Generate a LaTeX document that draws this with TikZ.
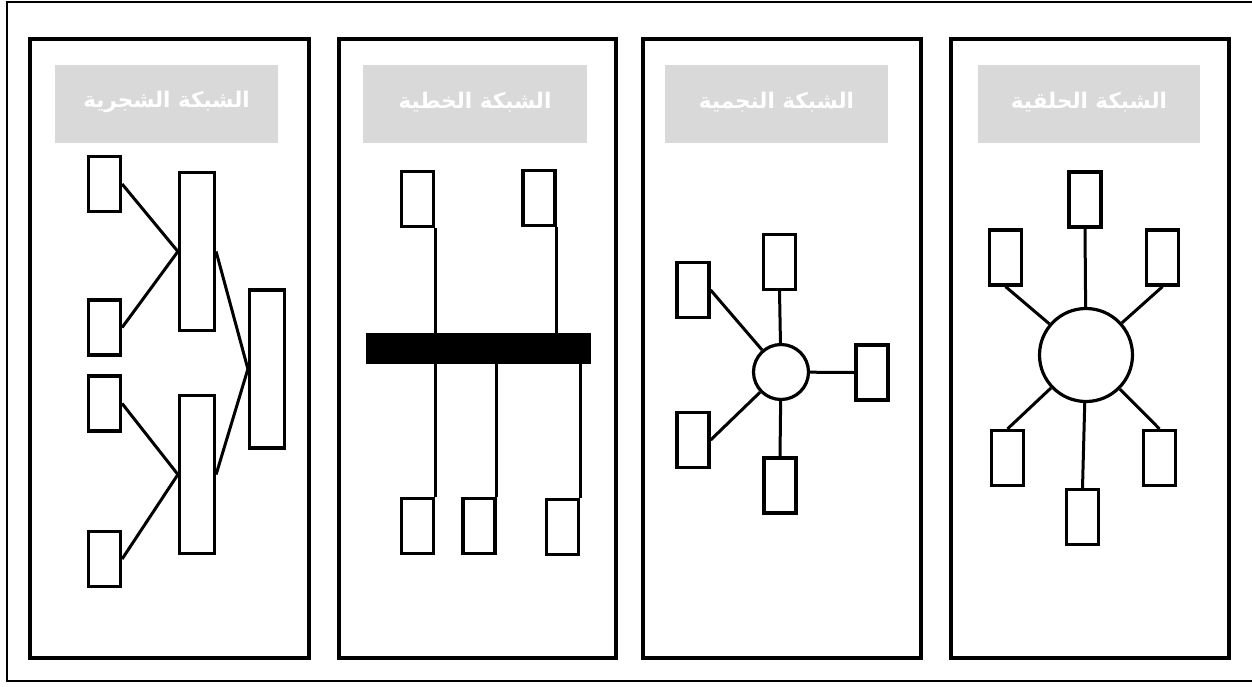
\documentclass[tikz,border=0pt]{standalone}
\usepackage{fontspec}
\newfontfamily\arabicfont[Script=Arabic]{DejaVu Sans}
\TeXXeTstate=1
\definecolor{titlegray}{HTML}{D9D9D9}

\begin{document}
\begin{tikzpicture}[x=1pt,y=-1pt,
  panel/.style={line width=4pt},
  titlebox/.style={fill=titlegray,draw=none},
  titletext/.style={text=white,font=\arabicfont\bfseries\fontsize{21.5}{26}\selectfont},
  pc/.style={draw,line width=3.2pt,inner sep=0pt,minimum width=32pt,minimum height=55pt},
  tall/.style={pc,minimum width=35pt,minimum height=158pt},
  hub/.style={draw,circle,line width=3.2pt,inner sep=0pt},
  link/.style={line width=3pt}]
\useasboundingbox (0,0) rectangle (1252,686);
\draw[line width=2pt] (1252,2) -- (7,2) -- (7,681) -- (1252,681);

% the four frames with their grey headings
\draw[panel] (30,39) rectangle (309,658);
\draw[panel] (339,39) rectangle (616,658);
\draw[panel] (643,39) rectangle (921,658);
\draw[panel] (951,39) rectangle (1229,658);
\fill[titlebox] (55,65) rectangle (278,143);
\fill[titlebox] (363,65) rectangle (587,143);
\fill[titlebox] (665,65) rectangle (888,143);
\fill[titlebox] (978,65) rectangle (1200,143);
\node[titletext] (t1) at (166.5,102) {\beginR الشبكة الشجرية\endR};
\node[titletext] (t2) at (475,102) {\beginR الشبكة الخطية\endR};
\node[titletext] (t3) at (776.5,102) {\beginR الشبكة النجمية\endR};
\node[titletext] (t4) at (1089,102) {\beginR الشبكة الحلقية\endR};

% tree
\node[pc] (L1) at (104.5,184) {};
\node[pc] (L2) at (104.5,327.5) {};
\node[pc] (L3) at (104.5,403.5) {};
\node[pc] (L4) at (104.5,559) {};
\node[tall] (M1) at (197,251.5) {};
\node[tall] (M2) at (197,474.5) {};
\node[tall] (R) at (267,369) {};
\draw[link] (L1.east) -- (M1.west) -- (L2.east);
\draw[link] (L3.east) -- (M2.west) -- (L4.east);
\draw[link] (M1.east) -- (R.west) -- (M2.east);

% bus
\node[fill,inner sep=0pt,minimum width=225pt,minimum height=31pt] (bus) at (478.5,348.5) {};
\node[pc] (T1) at (417.5,199) {};
\node[pc] (T2) at (539,198) {};
\node[pc] (B1) at (417.5,526) {};
\node[pc] (B2) at (479,526) {};
\node[pc] (B3) at (562.5,527) {};
\draw[link] (T1.south east) -- (T1.south east |- bus.north);
\draw[link] (T2.south east) -- (T2.south east |- bus.north);
\draw[link] (B1.north east) -- (B1.north east |- bus.south);
\draw[link] (B2.north east) -- (B2.north east |- bus.south);
\draw[link] (B3.north east) -- (B3.north east |- bus.south);

% star
\node[hub,minimum size=55pt] (C) at (781,372) {};
\node[pc] (S1) at (779.5,262) {};
\node[pc] (S2) at (693,290) {};
\node[pc] (S3) at (872,372.5) {};
\node[pc] (S4) at (693,440) {};
\node[pc] (S5) at (780,485.5) {};
\draw[link] (C) -- (S1.south);
\draw[link] (C) -- (S2.east);
\draw[link] (C) -- (S3.west);
\draw[link] (C) -- (S4.east);
\draw[link] (C) -- (S5.north);

% ring
\node[hub,minimum size=93pt] (O) at (1086,355) {};
\node[pc] (Q1) at (1085,199.5) {};
\node[pc] (Q2) at (1005.5,257.5) {};
\node[pc] (Q3) at (1162.5,257.5) {};
\node[pc] (Q4) at (1007.5,458) {};
\node[pc] (Q5) at (1159.5,458) {};
\node[pc] (Q6) at (1082.5,517) {};
\draw[link] (O) -- (Q1.south);
\draw[link] (O) -- (Q2.south);
\draw[link] (O) -- (Q3.south);
\draw[link] (O) -- (Q4.north);
\draw[link] (O) -- (Q5.north);
\draw[link] (O) -- (Q6.north);
\end{tikzpicture}
\end{document}
